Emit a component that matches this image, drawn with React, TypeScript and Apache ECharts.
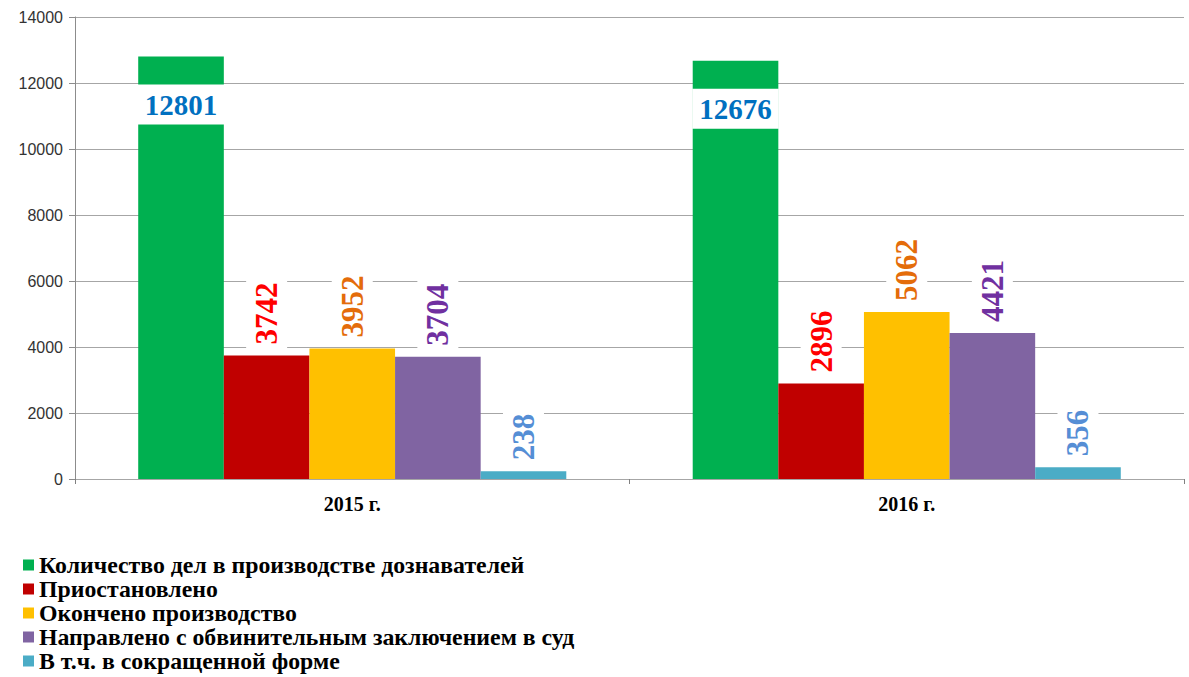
import React, { useEffect, useRef } from "react";
import * as echarts from "echarts";

const categories = ["2015 г.", "2016 г."];
const seriesNames = [
  "Количество дел в производстве дознавателей",
  "Приостановлено",
  "Окончено производство",
  "Направлено с обвинительным заключением в суд",
  "В т.ч. в сокращенной форме",
];
const totalCases = [12801, 12676];
const suspended = [3742, 2896];
const finished = [3952, 5062];
const sentToCourt = [3704, 4421];
const shortForm = [238, 356];
const yTicks = [0, 2000, 4000, 6000, 8000, 10000, 12000, 14000];

const barColors = ["#00B050", "#C00000", "#FFC000", "#8064A2", "#4BACC6"];
const labelColors = ["#0070C0", "#FF0000", "#E46C0A", "#7030A0", "#558ED5"];

const serif = "'Liberation Serif', 'Times New Roman', serif";

export default function App() {
  const ref = useRef<HTMLDivElement>(null);
  useEffect(() => {
    if (!ref.current) return;
    const chart = echarts.init(ref.current, null, { renderer: "svg" });
    const datasets = [totalCases, suspended, finished, sentToCourt, shortForm];
    const series = datasets.map((d, i) => {
      const label =
        i === 0
          ? {
              show: true,
              position: "insideTop",
              distance: 28,
              color: labelColors[i],
              fontFamily: serif,
              fontWeight: "bold",
              fontSize: 29,
              lineHeight: 29,
              backgroundColor: "#ffffff",
              padding: [6, 7, 5, 7],
            }
          : {
              show: true,
              position: "top",
              rotate: 90,
              align: "left",
              verticalAlign: "middle",
              distance: 3,
              color: labelColors[i],
              fontFamily: serif,
              fontWeight: "bold",
              fontSize: 31,
              lineHeight: 31,
              backgroundColor: "#ffffff",
              padding: [5, 4, 5, 8],
            };
      return {
        name: seriesNames[i],
        type: "bar",
        data: d,
        barGap: "0%",
        barCategoryGap: "22.8%",
        itemStyle: { color: barColors[i] },
        label,
      };
    });
    chart.setOption({
      animation: false,
      grid: { left: 75, right: 5, top: 17, bottom: 198, containLabel: false },
      legend: {
        orient: "vertical",
        left: 18,
        top: 548,
        height: 160,
        itemWidth: 11,
        itemHeight: 11,
        itemGap: 0,
        icon: "rect",
        data: seriesNames,
        textStyle: {
          fontFamily: serif,
          fontWeight: "bold",
          fontSize: 23.8,
          lineHeight: 21,
          color: "#000000",
        },
      },
      xAxis: {
        type: "category",
        data: categories,
        axisLine: { lineStyle: { color: "#a6a6a6", width: 1 } },
        axisTick: { show: true, length: 5, lineStyle: { color: "#808080" } },
        axisLabel: {
          fontFamily: serif,
          fontWeight: "bold",
          fontSize: 20,
          color: "#000000",
          margin: 15,
        },
      },
      yAxis: {
        type: "value",
        min: 0,
        max: 14000,
        interval: 2000,
        axisLine: { show: true, lineStyle: { color: "#8c8c8c" } },
        axisTick: { show: true, length: 6, lineStyle: { color: "#8c8c8c" } },
        splitLine: { lineStyle: { color: "#a6a6a6", width: 1 } },
        axisLabel: {
          fontFamily: "'Liberation Sans', Arial, sans-serif",
          fontSize: 16,
          color: "#333333",
          margin: 12,
          formatter: (v: number) => (yTicks.includes(v) ? String(v) : ""),
        },
      },
      series,
    });
    return () => chart.dispose();
  }, []);
  return <div ref={ref} style={{ width: 1189, height: 677, position: "absolute", left: 0, top: 0 }} />;
}
